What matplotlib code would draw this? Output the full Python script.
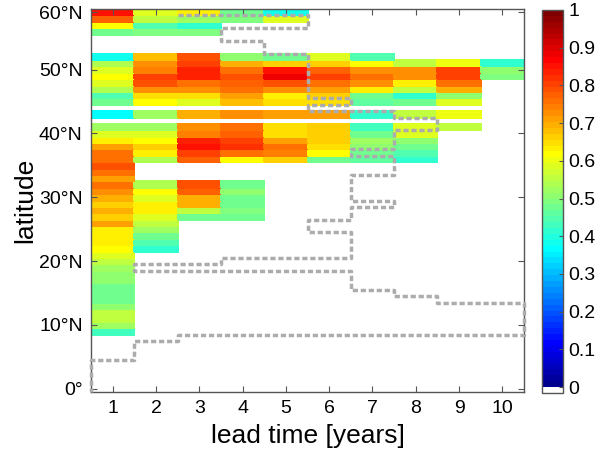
import numpy as np
import matplotlib
matplotlib.use("Agg")
import matplotlib.pyplot as plt
from matplotlib.colors import ListedColormap

plt.rcParams["font.family"] = ["Liberation Sans", "DejaVu Sans"]

nan = np.nan

# lead times (columns) and latitudes of the rows (59°N down to 9°N)
lead = np.arange(1, 11)
lat = np.arange(59, 8, -1)

# correlation per lead time, rows from 59°N to 9°N (nan = no value)
#           59 .. 50                                            49 .. 40                                             39 .. 30                                            29 .. 20                                            19 .. 10                                          9
lead1  = [.85, .78, .61, .48, nan, nan, nan, .39, .54, .58,  .62, .58, .54, .45, .48, nan, .36, nan, .52, .58,  .64, .71, .76, .76, .79, .75, .71, .76, .73, .70,  .67, .69, .67, .71, .63, .63, .63, .61, .58, .55,  .52, .50, .50, .47, .47, .48, .50, .55, .55, .52,  .43]
lead2  = [.59, .55, .45, .49, nan, nan, nan, .68, .72, .74,  .81, .79, .72, .65, .62, nan, .52, nan, .53, .58,  .61, .66, .64, .54, nan, nan, nan, .54, .62, .59,  .63, .63, .59, .56, .52, .48, .45, .41, nan, nan] + [nan] * 11
lead3  = [.64, .52, .41, .49, nan, nan, nan, .79, .80, .83,  .84, .75, .73, .65, .59, nan, .69, nan, .73, .74,  .84, .85, .81, .78, nan, nan, nan, .79, .78, .70,  .69, .56, .47] + [nan] * 18
lead4  = [.48, .49, nan, nan, nan, nan, nan, .51, .69, .76,  .79, .78, .76, .71, .68, nan, .72, nan, .75, .77,  .80, .82, .76, .62, nan, nan, nan, .48, .50, .47,  .47, .49, .47] + [nan] * 18
lead5  = [.38, .59, nan, nan, nan, nan, nan, .48, .67, .85,  .88, .79, .73, .63, .65, nan, .71, nan, .65, .65,  .71, .76, .74, .67] + [nan] * 27
lead6  = [nan, nan, nan, nan, nan, nan, nan, .58, .67, .78,  .81, .76, .71, .66, .65, nan, .71, nan, .67, .66,  .67, .65, .61, .48] + [nan] * 27
lead7  = [nan, nan, nan, nan, nan, nan, nan, .45, .62, .73,  .76, .72, .64, .48, .46, nan, .41, nan, .43, .48,  .52, .51, .48, .46] + [nan] * 27
lead8  = [nan, nan, nan, nan, nan, nan, nan, nan, .56, .72,  .73, .64, .56, .42, .48, nan, .55, nan, .59, .58,  .50, .47, .45, .41] + [nan] * 27
lead9  = [nan, nan, nan, nan, nan, nan, nan, nan, .60, .80,  .80, .76, .69, .51, .59, nan, .60, nan, .55] + [nan] * 32
lead10 = [nan, nan, nan, nan, nan, nan, nan, nan, .41, .51,  .49] + [nan] * 40

# dashed boundary (lead time, latitude) at cell edges
bound_x = [2.5, 5.5, 5.5, 3.5, 3.5, 4.5, 4.5, 5.5, 5.5, 6.5, 6.5, 5.5, 5.5, 7.5, 7.5, 8.5, 8.5, 7.5,
           7.5, 6.5, 6.5, 7.5, 7.5, 6.5, 6.5, 7.5, 7.5, 6.5, 6.5, 5.5, 5.5, 6.5, 6.5, 3.5, 3.5, 1.5,
           1.5, 6.5, 6.5, 7.5, 7.5, 8.5, 8.5, 10.5, 10.5, 2.5, 2.5, 1.5, 1.5, 0.5, 0.5]
bound_y = [58.5, 58.5, 56.5, 56.5, 54.5, 54.5, 52.5, 52.5, 45.5, 45.5, 44.5, 44.5, 43.5, 43.5, 42.5, 42.5, 40.5, 40.5,
           37.5, 37.5, 36.5, 36.5, 33.5, 33.5, 29.5, 29.5, 28.5, 28.5, 26.5, 26.5, 24.5, 24.5, 20.5, 20.5, 19.5, 19.5,
           18.5, 18.5, 15.5, 15.5, 14.5, 14.5, 13.5, 13.5, 8.5, 8.5, 7.5, 7.5, 4.5, 4.5, -0.5]

ytick_pos = [0, 10, 20, 30, 40, 50, 59]
ytick_labels = ["0°", "10°N", "20°N", "30°N", "40°N", "50°N", "60°N"]
cbar_ticks = np.round(np.arange(0, 1.01, 0.1), 1)


def matlab_jet(m=64):
    n = int(np.ceil(m / 4))
    u = np.concatenate([np.arange(1, n + 1) / n, np.ones(n - 1), np.arange(n, 0, -1) / n])
    g = int(np.ceil(n / 2)) - (1 if m % 4 == 1 else 0) + np.arange(1, len(u) + 1)
    r = g + n
    b = g - n
    J = np.zeros((m, 3))
    J[r[r <= m] - 1, 0] = u[r <= m]
    J[g[g <= m] - 1, 1] = u[g <= m]
    J[b[b >= 1] - 1, 2] = u[b >= 1]
    return J


cmap = ListedColormap(np.vstack([[1, 1, 1], matlab_jet(64)]))

Z = np.full((60, 10), nan)
for j, col in enumerate([lead1, lead2, lead3, lead4, lead5, lead6, lead7, lead8, lead9, lead10]):
    Z[lat, j] = col
Z = np.ma.masked_invalid(Z)

x_edges = np.arange(0.5, 11, 1)
y_edges = np.arange(-0.5, 60, 1)

fig = plt.figure(figsize=(5.95, 4.53), dpi=100)
ax = fig.add_axes([91 / 595, 1 - 392 / 453, 433 / 595, 383 / 453])
mesh = ax.pcolormesh(x_edges, y_edges, Z, cmap=cmap, vmin=-1 / 64, vmax=1,
                     edgecolor="face", linewidth=0.3, antialiased=False)
ax.plot(bound_x, bound_y, color="#acacac", lw=2.5, linestyle=(0, (1.5, 0.8)),
        dash_capstyle="butt", clip_on=False, zorder=3)

ax.set_xlim(0.5, 10.5)
ax.set_ylim(-0.5, 59.5)
ax.set_xticks(lead)
ax.set_yticks(ytick_pos)
ax.set_yticklabels(ytick_labels)
ax.tick_params(direction="in", top=True, right=True, length=4, width=0.8,
               color="#555555", labelsize=14, pad=6)
for s in ax.spines.values():
    s.set_color("#555555")
    s.set_linewidth(1.0)
ax.set_xlabel("lead time [years]", fontsize=19, labelpad=5)
ax.set_ylabel("latitude", fontsize=19, labelpad=1)

cax = fig.add_axes([542 / 595, 1 - 393 / 453, 21 / 595, 383 / 453])
cb = fig.colorbar(mesh, cax=cax, ticks=cbar_ticks)
cb.ax.set_yticklabels([f"{t:g}" for t in cbar_ticks])
cb.ax.tick_params(direction="in", length=3, width=0.8, color="#555555", labelsize=14, pad=4)
cb.outline.set_edgecolor("#555555")
cb.outline.set_linewidth(1.0)

fig.savefig("out.png", dpi=100)
